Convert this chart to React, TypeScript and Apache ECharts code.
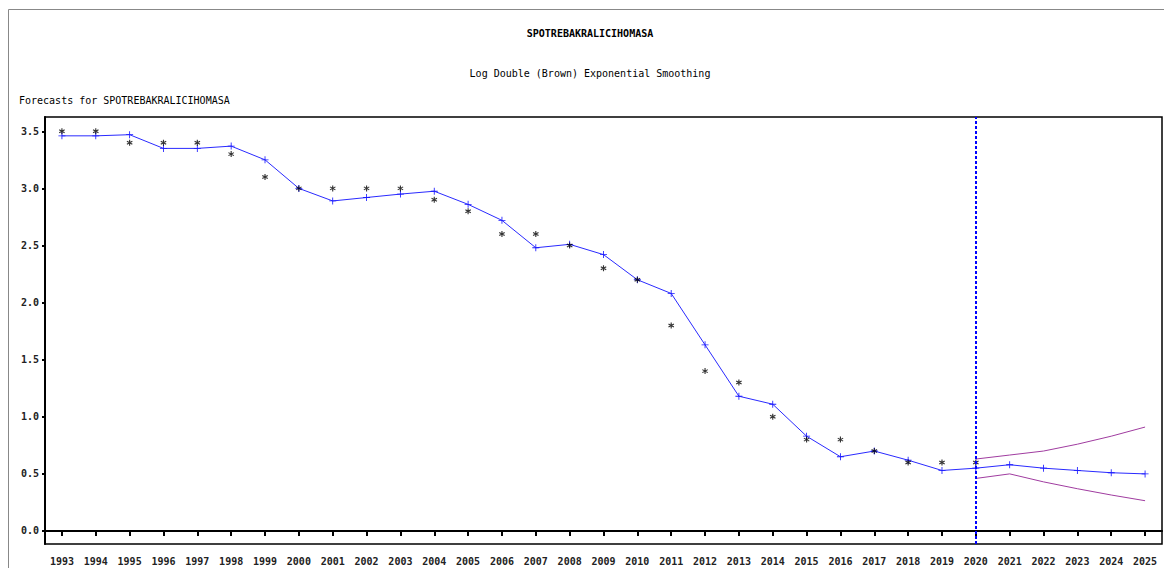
import React, { useEffect, useRef } from "react";
import * as echarts from "echarts";

const years = ["1993","1994","1995","1996","1997","1998","1999","2000","2001","2002","2003","2004","2005","2006","2007","2008","2009","2010","2011","2012","2013","2014","2015","2016","2017","2018","2019","2020","2021","2022","2023","2024","2025"];

const actual = [3.5,3.5,3.4,3.4,3.4,3.3,3.1,3.0,3.0,3.0,3.0,2.9,2.8,2.6,2.6,2.5,2.3,2.2,1.8,1.4,1.3,1.0,0.8,0.8,0.7,0.6,0.6,0.6,null,null,null,null,null];

const fitted = [3.46,3.46,3.47,3.35,3.35,3.37,3.25,3.0,2.89,2.92,2.95,2.975,2.86,2.72,2.48,2.51,2.42,2.2,2.08,1.63,1.18,1.11,0.83,0.65,0.7,0.62,0.53,0.55,0.58,0.55,0.53,0.51,0.5];

const upper = [null,null,null,null,null,null,null,null,null,null,null,null,null,null,null,null,null,null,null,null,null,null,null,null,null,null,null,0.63,0.665,0.7,0.76,0.83,0.91];
const lower = [null,null,null,null,null,null,null,null,null,null,null,null,null,null,null,null,null,null,null,null,null,null,null,null,null,null,null,0.46,0.5,0.43,0.37,0.315,0.265];

const yTicks = [0, 0.5, 1.0, 1.5, 2.0, 2.5, 3.0, 3.5];
const forecastStart = "2020";

const mainTitle = "SPOTREBAKRALICIHOMASA";
const subTitle = "Log Double (Brown) Exponential Smoothing";
const sideTitle = "Forecasts for SPOTREBAKRALICIHOMASA";

const FONT = "DejaVu Sans Mono";

const plusPath = "path://M4.4,0 L5.6,0 L5.6,4.4 L10,4.4 L10,5.6 L5.6,5.6 L5.6,10 L4.4,10 L4.4,5.6 L0,5.6 L0,4.4 L4.4,4.4 Z";
const starPath =
  "path://M4.1,0 L5.9,0 L5.9,10 L4.1,10 Z " +
  "M0.22,3.28 L1.12,1.72 L9.78,6.72 L8.88,8.28 Z " +
  "M8.88,1.72 L9.78,3.28 L1.12,8.28 L0.22,6.72 Z";

export default function App() {
  const ref = useRef<HTMLDivElement>(null);
  useEffect(() => {
    if (!ref.current) return;
    const chart = echarts.init(ref.current, null, { renderer: "svg" });
    chart.setOption({
      animation: false,
      backgroundColor: "#fff",
      title: [
        { text: mainTitle, left: "center", top: 20, padding: 0, textStyle: { fontFamily: FONT, fontSize: 10, fontWeight: "bold", color: "#000" } },
        { text: subTitle, left: "center", top: 60, padding: 0, textStyle: { fontFamily: FONT, fontSize: 10, fontWeight: "normal", color: "#000" } },
        { text: sideTitle, left: 11, top: 87, padding: 0, textStyle: { fontFamily: FONT, fontSize: 10, fontWeight: "normal", color: "#000" } },
      ],
      graphic: [
        { type: "rect", shape: { x: 0.5, y: 1.5, width: 1200, height: 600 }, style: { fill: "none", stroke: "#888", lineWidth: 1 }, silent: true, z: -1 },
      ],
      grid: { left: 37, top: 109, right: 10, bottom: 24, show: true, borderColor: "#000", borderWidth: 1.5, backgroundColor: "transparent" },
      xAxis: {
        type: "category",
        data: years,
        boundaryGap: true,
        axisLine: { show: true, lineStyle: { color: "#000", width: 2 } },
        axisTick: { show: true, alignWithLabel: true, interval: 0, length: 5, lineStyle: { color: "#000", width: 2 } },
        axisLabel: { interval: 0, margin: 12, fontFamily: FONT, fontSize: 10, fontWeight: "bold", color: "#222" },
        splitLine: { show: false },
      },
      yAxis: {
        type: "value",
        min: -0.114,
        max: 3.625,
        axisLine: { show: true, lineStyle: { color: "#000", width: 2 } },
        axisTick: { show: true, length: 3, customValues: yTicks, lineStyle: { color: "#000", width: 2 } },
        axisLabel: { customValues: yTicks, margin: 6, fontFamily: FONT, fontSize: 10, fontWeight: "bold", color: "#222", formatter: (v: number) => v.toFixed(1) },
        splitLine: { show: false },
      },
      series: [
        {
          name: "Fitted",
          type: "line",
          data: fitted,
          symbol: plusPath,
          symbolSize: 7,
          showAllSymbol: true,
          lineStyle: { color: "#2a2aff", width: 1 },
          itemStyle: { color: "#1a1aff" },
          z: 3,
          markLine: {
            silent: true,
            symbol: "none",
            label: { show: false },
            lineStyle: { color: "#0000ff", width: 2, type: [3, 2] },
            data: [{ xAxis: forecastStart }],
          },
        },
        {
          name: "Upper",
          type: "line",
          data: upper,
          symbol: "none",
          lineStyle: { color: "#a03ca0", width: 1 },
          z: 2,
        },
        {
          name: "Lower",
          type: "line",
          data: lower,
          symbol: "none",
          lineStyle: { color: "#a03ca0", width: 1 },
          z: 2,
        },
        {
          name: "Actual",
          type: "scatter",
          data: actual,
          symbol: starPath,
          symbolSize: 6,
          itemStyle: { color: "#000" },
          z: 4,
        },
      ],
    });
    return () => chart.dispose();
  }, []);
  return <div ref={ref} style={{ width: 1164, height: 560 }} />;
}
